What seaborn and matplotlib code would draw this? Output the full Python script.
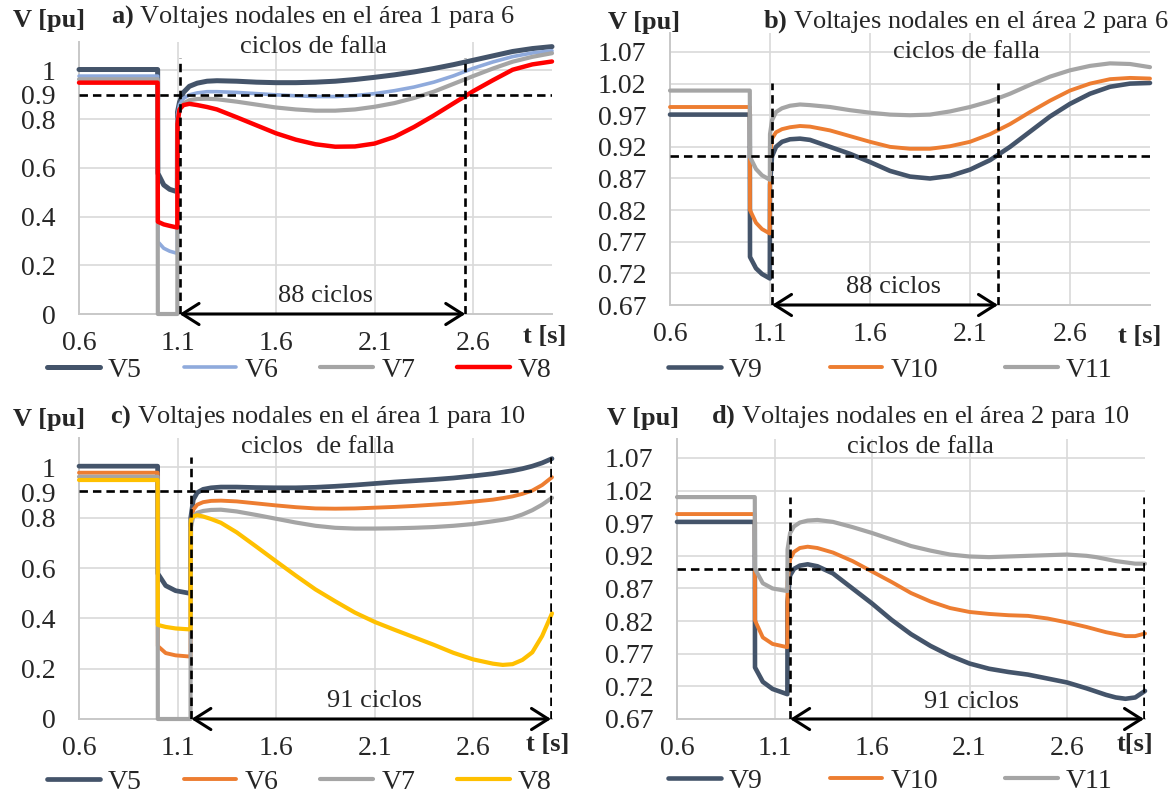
import matplotlib
matplotlib.use("Agg")
import matplotlib.pyplot as plt
import seaborn as sns

# ---------------- data ----------------
# Panel a / b : 6-cycle fault (1.0 s -> 1.1 s)
t_6c = [0.6, 0.999, 1.0, 1.03, 1.06, 1.099, 1.1, 1.11, 1.13, 1.16, 1.2, 1.25, 1.3,
        1.4, 1.5, 1.6, 1.7, 1.8, 1.9, 2.0, 2.1, 2.2, 2.3, 2.4, 2.5, 2.6, 2.7, 2.8, 2.9, 3.0]

a_V5 = [1.004, 1.004, 0.578, 0.53, 0.512, 0.502, 0.83, 0.87, 0.91, 0.935, 0.948, 0.956, 0.958,
        0.956, 0.952, 0.950, 0.950, 0.952, 0.956, 0.963, 0.972, 0.982, 0.994, 1.008, 1.024, 1.042,
        1.060, 1.078, 1.090, 1.098]
a_V6 = [0.977, 0.977, 0.297, 0.27, 0.258, 0.249, 0.82, 0.86, 0.885, 0.90, 0.908, 0.913, 0.913,
        0.910, 0.905, 0.900, 0.896, 0.893, 0.893, 0.897, 0.905, 0.917, 0.932, 0.952, 0.978, 1.009,
        1.035, 1.057, 1.072, 1.081]
a_V7 = [0.964, 0.964, 0.0, 0.0, 0.0, 0.0, 0.80, 0.84, 0.865, 0.878, 0.883, 0.884, 0.882,
        0.872, 0.860, 0.848, 0.840, 0.835, 0.835, 0.840, 0.851, 0.866, 0.887, 0.913, 0.945, 0.977,
        1.008, 1.036, 1.056, 1.071]
a_V8 = [0.950, 0.950, 0.379, 0.368, 0.362, 0.355, 0.78, 0.84, 0.858, 0.863, 0.858, 0.850, 0.840,
        0.808, 0.775, 0.742, 0.716, 0.697, 0.687, 0.688, 0.700, 0.727, 0.768, 0.815, 0.865, 0.915,
        0.960, 1.003, 1.025, 1.037]

b_V9 = [0.971, 0.971, 0.746, 0.728, 0.719, 0.712, 0.86, 0.905, 0.920, 0.928, 0.932, 0.933, 0.931,
        0.920, 0.909, 0.896, 0.882, 0.873, 0.870, 0.874, 0.884, 0.899, 0.920, 0.944, 0.968, 0.988,
        1.004, 1.015, 1.020, 1.021]
b_V10 = [0.983, 0.983, 0.820, 0.800, 0.790, 0.783, 0.90, 0.933, 0.943, 0.948, 0.951, 0.953, 0.952,
         0.946, 0.937, 0.928, 0.920, 0.917, 0.917, 0.921, 0.928, 0.940, 0.956, 0.975, 0.993, 1.009,
         1.020, 1.027, 1.029, 1.028]
b_V11 = [1.009, 1.009, 0.904, 0.885, 0.875, 0.868, 0.94, 0.962, 0.975, 0.981, 0.985, 0.987, 0.986,
         0.983, 0.978, 0.974, 0.971, 0.970, 0.971, 0.976, 0.983, 0.992, 1.004, 1.018, 1.031, 1.041,
         1.048, 1.052, 1.051, 1.046]

# Panel c / d : 10-cycle fault (1.0 s -> 1.167 s)
t_10c = [0.6, 0.999, 1.0, 1.04, 1.09, 1.166, 1.167, 1.18, 1.2, 1.23, 1.27, 1.32, 1.4, 1.5, 1.6,
         1.7, 1.8, 1.9, 2.0, 2.1, 2.2, 2.3, 2.4, 2.5, 2.6, 2.7, 2.75, 2.8, 2.85, 2.9, 2.95, 3.0]

c_V5 = [1.005, 1.005, 0.578, 0.53, 0.51, 0.499, 0.80, 0.872, 0.90, 0.913, 0.919, 0.922, 0.922,
        0.920, 0.919, 0.919, 0.921, 0.925, 0.930, 0.936, 0.942, 0.947, 0.952, 0.958, 0.966, 0.975,
        0.981, 0.987, 0.995, 1.005, 1.018, 1.035]
c_V6 = [0.979, 0.979, 0.290, 0.262, 0.253, 0.248, 0.78, 0.832, 0.852, 0.862, 0.867, 0.868, 0.865,
        0.857, 0.849, 0.842, 0.837, 0.836, 0.837, 0.840, 0.843, 0.847, 0.852, 0.857, 0.864, 0.872,
        0.878, 0.885, 0.895, 0.908, 0.930, 0.961]
c_V7 = [0.963, 0.963, 0.0, 0.0, 0.0, 0.0, 0.76, 0.806, 0.820, 0.827, 0.831, 0.832, 0.825,
        0.811, 0.796, 0.781, 0.768, 0.760, 0.757, 0.757, 0.758, 0.760, 0.763, 0.768, 0.775, 0.786,
        0.792, 0.800, 0.813, 0.830, 0.852, 0.879]
c_V8 = [0.950, 0.950, 0.374, 0.366, 0.360, 0.356, 0.79, 0.805, 0.810, 0.805, 0.795, 0.780, 0.742,
        0.685, 0.627, 0.570, 0.515, 0.468, 0.423, 0.386, 0.355, 0.325, 0.295, 0.263, 0.237, 0.220,
        0.215, 0.218, 0.235, 0.265, 0.330, 0.420]

d_V9 = [0.972, 0.972, 0.749, 0.727, 0.716, 0.708, 0.85, 0.89, 0.900, 0.905, 0.907, 0.904, 0.893,
        0.870, 0.847, 0.822, 0.800, 0.782, 0.767, 0.755, 0.747, 0.742, 0.738, 0.732, 0.726, 0.717,
        0.712, 0.707, 0.703, 0.701, 0.703, 0.713]
d_V10 = [0.984, 0.984, 0.821, 0.795, 0.785, 0.780, 0.88, 0.915, 0.926, 0.932, 0.934, 0.932, 0.925,
         0.912, 0.896, 0.880, 0.863, 0.850, 0.840, 0.834, 0.831, 0.829, 0.828, 0.824, 0.818, 0.811,
         0.807, 0.803, 0.800, 0.797, 0.797, 0.801]
d_V11 = [1.010, 1.010, 0.900, 0.878, 0.870, 0.866, 0.93, 0.955, 0.965, 0.971, 0.974, 0.975, 0.972,
         0.964, 0.955, 0.945, 0.935, 0.928, 0.922, 0.919, 0.918, 0.919, 0.920, 0.921, 0.922, 0.920,
         0.918, 0.915, 0.912, 0.910, 0.908, 0.908]

x_ticks = [0.6, 1.1, 1.6, 2.1, 2.6]
x_tick_labels = ["0.6", "1.1", "1.6", "2.1", "2.6"]
y_ticks_area1 = [0, 0.2, 0.4, 0.6, 0.8, 0.9, 1.0]
y_tick_labels_area1 = ["0", "0.2", "0.4", "0.6", "0.8", "0.9", "1"]
y_grid_area1 = [0.2, 0.4, 0.6, 0.8, 1.0]
y_ticks_area2 = [0.67, 0.72, 0.77, 0.82, 0.87, 0.92, 0.97, 1.02, 1.07]
y_tick_labels_area2 = ["0.67", "0.72", "0.77", "0.82", "0.87", "0.92", "0.97", "1.02", "1.07"]

# reference marks (threshold, interval limits)
thr_a, thr_b, thr_c, thr_d = 0.90, 0.906, 0.907, 0.90
span_a = (1.11, 2.56)
span_b = (1.11, 2.24)
span_c = (1.17, 2.995)
span_d = (1.18, 2.995)
label_a, label_b = "88 ciclos", "88 ciclos"
label_c, label_d = "91 ciclos", "91 ciclos"

# ---------------- style ----------------
sns.set_style("white")
plt.rcParams["font.family"] = ["Liberation Serif", "DejaVu Serif"]
plt.rcParams["mathtext.fontset"] = "custom"
plt.rcParams["mathtext.rm"] = "Liberation Serif"
plt.rcParams["mathtext.bf"] = "Liberation Serif:bold"

FS = 19
TFS = 20
W, H = 1171, 796
GRID = "#D9D9D9"
DARK, LBLUE, GRAY, RED, ORANGE, GOLD = "#44546A", "#8FAADC", "#A5A5A5", "#FF0000", "#ED7D31", "#FFC000"
DASH = (0, (3.2, 1.9))

fig = plt.figure(figsize=(W / 100, H / 100), dpi=100)
fig.patch.set_facecolor("white")


def add_ax(l, r, t, b):
    return fig.add_axes([l / W, 1 - b / H, (r - l) / W, (b - t) / H])


def setup(ax, ylim, yticks, ylabels, ygrid):
    ax.set_xlim(0.6, 3.0)
    ax.set_ylim(*ylim)
    for g in ygrid:
        ax.axhline(g, color=GRID, lw=1.2, zorder=0)
    for g in x_ticks[1:]:
        ax.axvline(g, color=GRID, lw=1.2, zorder=0)
    ax.set_xticks(x_ticks)
    ax.set_xticklabels(x_tick_labels)
    ax.set_yticks(yticks)
    ax.set_yticklabels(ylabels)
    ax.tick_params(axis="y", length=0, pad=17, labelsize=TFS)
    ax.tick_params(axis="x", length=0, pad=12, labelsize=TFS)
    for s in ["top", "right"]:
        ax.spines[s].set_visible(False)
    for s in ["left", "bottom"]:
        ax.spines[s].set_color("#C8C8C8")
        ax.spines[s].set_linewidth(1.4)
    ax.set_xlabel("")
    ax.set_ylabel("")


def draw(ax, t, series):
    for name, vals, color, lw in series:
        sns.lineplot(x=t, y=vals, ax=ax, color=color, lw=lw, label=name,
                     sort=False, estimator=None, legend=False, clip_on=False, zorder=3)


def marks(ax, thr, span, ybase, ytop, label, label_xy):
    ax.axhline(thr, color="black", lw=1.9, ls=DASH, zorder=5)
    for x in span:
        ax.vlines(x, ybase, ytop, color="black", lw=1.9, ls=DASH, zorder=5)
    ax.annotate("", xy=(span[0], ybase), xytext=(span[1], ybase),
                arrowprops=dict(arrowstyle="<->,head_length=0.6,head_width=0.38",
                                lw=2.2, color="black", shrinkA=0, shrinkB=0,
                                mutation_scale=20), zorder=6)
    ax.text(label_xy[0], label_xy[1], label, fontsize=FS, ha="center", va="center", zorder=6)


def legend(ax, handles_names, x0, y0, colsp):
    handles = [l for l in ax.get_lines() if l.get_label() in handles_names]
    handles = sorted(handles, key=lambda l: handles_names.index(l.get_label()))
    fig.legend(handles, handles_names, loc="center left", bbox_to_anchor=(x0 / W, 1 - y0 / H),
               ncol=len(handles), frameon=False, fontsize=TFS, handlelength=1.9,
               handletextpad=0.3, columnspacing=colsp, borderpad=0, borderaxespad=0)


def header(cx, cy, letter, line1, line2, vx, vy, tx, ty, tlabel):
    fig.text(cx / W, 1 - cy / H, r"$\mathbf{" + letter + ")}$ " + line1, fontsize=FS,
             ha="center", va="center")
    fig.text(cx / W, 1 - (cy + 30) / H, line2, fontsize=FS, ha="center", va="center")
    fig.text(vx / W, 1 - vy / H, "V [pu]", fontsize=FS, fontweight="bold", ha="center", va="center")
    fig.text(tx / W, 1 - ty / H, tlabel, fontsize=FS, fontweight="bold", ha="center", va="center")


# ---------------- panel a ----------------
ax_a = add_ax(79, 552, 42, 314)
setup(ax_a, (0, 1.117), y_ticks_area1, y_tick_labels_area1, y_grid_area1)
draw(ax_a, t_6c, [("V5", a_V5, DARK, 3.6), ("V6", a_V6, LBLUE, 2.6),
                  ("V7", a_V7, GRAY, 3.0), ("V8", a_V8, RED, 3.2)])
marks(ax_a, thr_a, span_a, 0.0, 1.05, label_a, (1.85, 0.075))
legend(ax_a, ["V5", "V6", "V7", "V8"], 47, 370, 1.5)
header(313, 17, "a", "Voltajes nodales en el área 1 para 6", "ciclos de falla",
       49, 20, 545, 336, "t [s]")

# ---------------- panel b ----------------
ax_b = add_ax(670, 1150, 33, 305)
setup(ax_b, (0.67, 1.100), y_ticks_area2, y_tick_labels_area2, y_ticks_area2[1:])
draw(ax_b, t_6c, [("V9", b_V9, DARK, 3.3), ("V10", b_V10, ORANGE, 2.8),
                  ("V11", b_V11, GRAY, 3.0)])
marks(ax_b, thr_b, span_b, 0.67, 1.021, label_b, (1.72, 0.698))
legend(ax_b, ["V9", "V10", "V11"], 668, 370, 2.4)
header(966, 22, "b", "Voltajes nodales en el área 2 para 6", "ciclos de falla",
       644, 22, 1140, 337, "t [s]")

# ---------------- panel c ----------------
ax_c = add_ax(79, 552, 438, 719)
setup(ax_c, (0, 1.117), y_ticks_area1, y_tick_labels_area1, y_grid_area1)
draw(ax_c, t_10c, [("V5", c_V5, DARK, 3.4), ("V6", c_V6, ORANGE, 2.8),
                   ("V7", c_V7, GRAY, 3.0), ("V8", c_V8, GOLD, 3.0)])
marks(ax_c, thr_c, span_c, 0.0, 1.04, label_c, (2.10, 0.07))
legend(ax_c, ["V5", "V6", "V7", "V8"], 47, 782, 1.5)
header(318, 417, "c", "Voltajes nodales en el área 1 para 10", "ciclos  de falla",
       49, 420, 548, 745, "t [s]")

# ---------------- panel d ----------------
ax_d = add_ax(677, 1145, 439, 719)
setup(ax_d, (0.67, 1.099), y_ticks_area2, y_tick_labels_area2, y_ticks_area2[1:])
draw(ax_d, t_10c, [("V9", d_V9, DARK, 3.3), ("V10", d_V10, ORANGE, 2.8),
                   ("V11", d_V11, GRAY, 3.0)])
marks(ax_d, thr_d, span_d, 0.67, 1.01, label_d, (2.11, 0.696))
legend(ax_d, ["V9", "V10", "V11"], 668, 781, 2.4)
header(920, 417, "d", "Voltajes nodales en el área 2 para 10", "ciclos de falla",
       643, 418, 1135, 745, "t[s]")

fig.savefig("out.png", dpi=100, facecolor="white")
